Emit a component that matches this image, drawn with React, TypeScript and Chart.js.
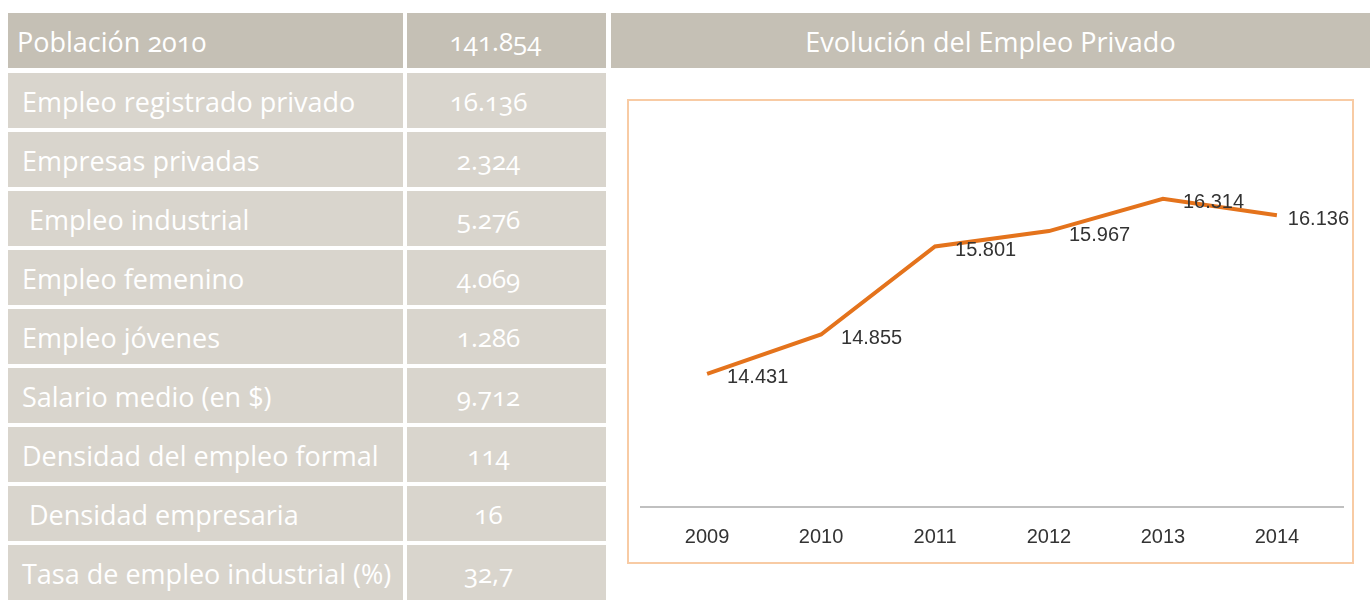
import React, { useEffect, useRef } from "react";
import { Chart, registerables } from "chart.js";

Chart.register(...registerables);

const headerLabel = "Población 2010";
const headerValue = "141.854";
const rowLabels = [
  "Empleo registrado privado",
  "Empresas privadas",
  " Empleo industrial",
  "Empleo femenino",
  "Empleo jóvenes",
  "Salario medio (en $)",
  "Densidad del empleo formal",
  " Densidad empresaria",
  "Tasa de empleo industrial (%)",
];
const rowValues = ["16.136", "2.324", "5.276", "4.069", "1.286", "9.712", "114", "16", "32,7"];

const chartTitle = "Evolución del Empleo Privado";
const years = [2009, 2010, 2011, 2012, 2013, 2014];
const employment = [14431, 14855, 15801, 15967, 16314, 16136];

const HEADER_BG = "#c5c0b5";
const ROW_BG = "#d9d5cd";
const ORANGE = "#e4731c";
const TABLE_FONT = "'Open Sans', 'Noto Sans', sans-serif";
const CHART_FONT = "'Liberation Sans', Arial, sans-serif";

function fmt(v: number): string {
  const s = String(Math.round(v));
  return s.replace(/\B(?=(\d{3})+(?!\d))/g, ".");
}

const labelPlugin = {
  id: "pointLabels",
  afterDatasetsDraw(chart: any) {
    const ctx = chart.ctx;
    const meta = chart.getDatasetMeta(0);
    ctx.save();
    ctx.font = `20px ${CHART_FONT}`;
    ctx.fillStyle = "#333333";
    ctx.textAlign = "left";
    ctx.textBaseline = "middle";
    meta.data.forEach((pt: any, i: number) => {
      const text = fmt(employment[i]);
      const w = ctx.measureText(text).width;
      let x = pt.x + 20;
      const maxX = chart.width - 5 - w;
      if (x > maxX) x = maxX;
      ctx.fillText(text, x, pt.y + 4);
    });
    ctx.restore();
  },
};

function LineChart() {
  const ref = useRef<HTMLCanvasElement | null>(null);
  useEffect(() => {
    if (!ref.current) return;
    const chart = new Chart(ref.current, {
      type: "line",
      data: {
        datasets: [
          {
            data: years.map((y, i) => ({ x: y, y: employment[i] })),
            borderColor: ORANGE,
            borderWidth: 4,
            pointRadius: 0,
            tension: 0,
            fill: false,
          },
        ],
      },
      options: {
        animation: false,
        responsive: false,
        maintainAspectRatio: false,
        events: [],
        layout: { padding: { left: 14, right: 11, top: 36, bottom: 16 } },
        plugins: { legend: { display: false }, tooltip: { enabled: false }, title: { display: false } },
        scales: {
          x: {
            type: "linear",
            min: 2008.42,
            max: 2014.58,
            afterBuildTicks: (axis: any) => {
              axis.ticks = years.map((y) => ({ value: y }));
            },
            afterFit: (axis: any) => {
              axis.height = 41;
            },
            grid: { display: false, drawTicks: false },
            border: { display: true, color: "#c0c0c0", width: 2 },
            ticks: {
              padding: 18,
              color: "#333333",
              font: { family: CHART_FONT, size: 20 },
              callback: (v: any) => String(v),
              autoSkip: false,
              maxRotation: 0,
            },
          },
          y: {
            display: false,
            min: 13000,
            max: 17000,
          },
        },
      },
      plugins: [labelPlugin],
    } as any);
    return () => chart.destroy();
  }, []);
  return <canvas ref={ref} width={727} height={465} style={{ display: "block" }} />;
}

const cellText: React.CSSProperties = {
  position: "absolute",
  color: "#ffffff",
  fontFamily: TABLE_FONT,
  fontSize: 27,
  display: "flex",
  alignItems: "center",
  whiteSpace: "pre",
  boxSizing: "border-box",
  fontVariantNumeric: "oldstyle-nums",
};

export default function App() {
  const rowTop = (i: number) => 73 + i * 59;
  return (
    <div style={{ position: "absolute", left: 0, top: 0, width: 1370, height: 606, background: "#ffffff", overflow: "hidden" }}>
      <div style={{ ...cellText, left: 8, top: 13, width: 395, height: 55, background: HEADER_BG, paddingLeft: 9, paddingTop: 1 }}>
        {headerLabel}
      </div>
      <div style={{ ...cellText, left: 407, top: 13, width: 199, height: 55, background: HEADER_BG, paddingTop: 1, justifyContent: "center", paddingRight: 22, fontSize: 26 }}>
        {headerValue}
      </div>
      {rowLabels.map((lab, i) => (
        <React.Fragment key={i}>
          <div style={{ ...cellText, left: 8, top: rowTop(i), width: 395, height: 55, background: ROW_BG, paddingLeft: 14, paddingTop: 1 }}>
            {lab}
          </div>
          <div style={{ ...cellText, left: 407, top: rowTop(i), width: 199, height: 55, background: ROW_BG, paddingTop: 1, justifyContent: "center", paddingRight: 36, fontSize: 26 }}>
            {rowValues[i]}
          </div>
        </React.Fragment>
      ))}
      <div style={{ ...cellText, left: 611, top: 13, width: 759, height: 55, background: HEADER_BG, justifyContent: "center", paddingTop: 1 }}>
        {chartTitle}
      </div>
      <div style={{ position: "absolute", left: 627, top: 99, width: 727, height: 465, border: "2px solid #f8cba4", boxSizing: "border-box" }} />
      <div style={{ position: "absolute", left: 627, top: 99, width: 727, height: 465 }}>
        <LineChart />
      </div>
    </div>
  );
}
